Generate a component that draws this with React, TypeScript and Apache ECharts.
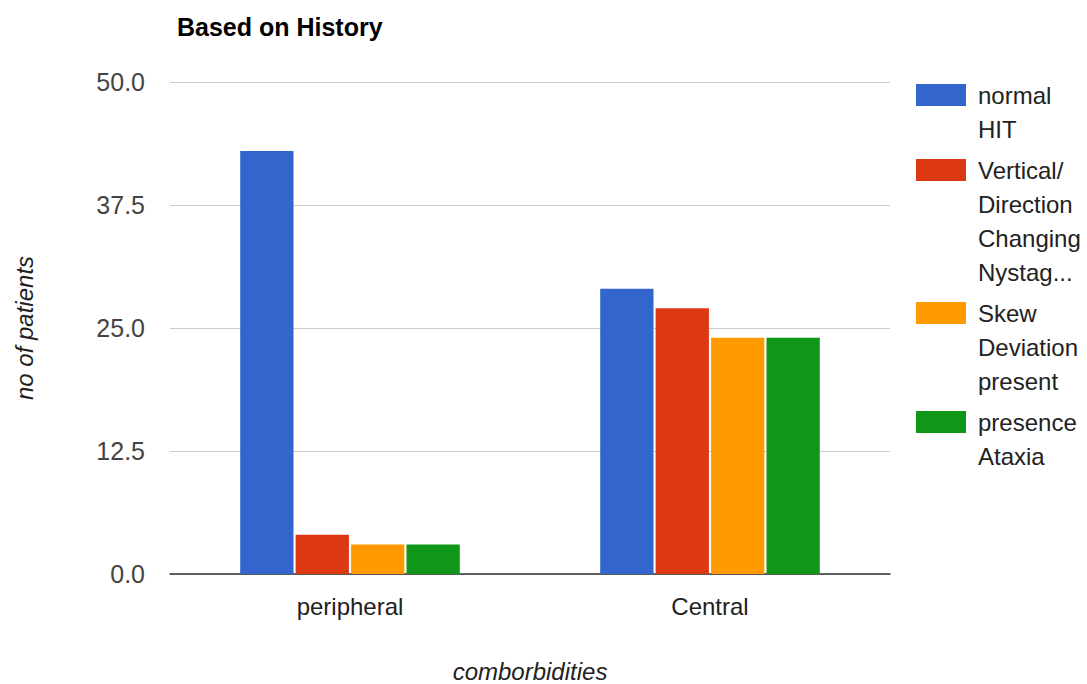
import React, { useEffect, useRef } from "react";
import * as echarts from "echarts";

const categories = ["peripheral", "Central"];
const seriesNames = ["normal HIT", "Vertical/ Direction Changing Nystag...", "Skew Deviation present", "presence Ataxia"];
const legendLines = [["normal", "HIT"], ["Vertical/", "Direction", "Changing", "Nystag..."], ["Skew", "Deviation", "present"], ["presence", "Ataxia"]];
const colors = ["#3366cc", "#dc3912", "#ff9900", "#109618"];
const normalHIT = [43, 29];
const verticalNystagmus = [4, 27];
const skewDeviation = [3, 24];
const presenceAtaxia = [3, 24];
const seriesValues = [normalHIT, verticalNystagmus, skewDeviation, presenceAtaxia];

const FONT = "'Liberation Sans', Arial, sans-serif";
const FS = 24;

export default function App() {
  const ref = useRef<HTMLDivElement>(null);
  useEffect(() => {
    if (!ref.current) return;
    const chart = echarts.init(ref.current, null, { renderer: "svg" });
    const lineH = 34;
    const legendGraphics: any[] = [];
    let y = 95;
    legendLines.forEach((lines, i) => {
      legendGraphics.push({
        type: "rect",
        shape: { x: 916, y: y - 11, width: 50, height: 22 },
        style: { fill: colors[i] },
      });
      legendGraphics.push({
        type: "text",
        x: 978,
        y: y - lineH / 2,
        style: {
          text: lines.join("\n"),
          fill: "#222",
          font: `${FS}px ${FONT}`,
          lineHeight: lineH,
          verticalAlign: "top",
          align: "left",
        },
      });
      y += lines.length * lineH + 7;
    });
    chart.setOption({
      animation: false,
      backgroundColor: "#fff",
      textStyle: { fontFamily: FONT },
      title: {
        text: "Based on History",
        left: 172,
        top: 9,
        textStyle: { fontSize: 25, fontWeight: "bold", color: "#000", fontFamily: FONT },
      },
      grid: { left: 170, right: 197, top: 82, bottom: 110, outerBoundsMode: "none", containLabel: false },
      xAxis: {
        type: "category",
        data: categories,
        name: "comborbidities",
        nameLocation: "middle",
        nameGap: 86,
        nameTextStyle: { fontSize: FS, lineHeight: 22, fontStyle: "italic", color: "#222", fontFamily: FONT },
        axisLine: { lineStyle: { color: "#333", width: 1.5 } },
        axisTick: { show: false },
        axisLabel: { fontSize: FS, color: "#222", margin: 20, fontFamily: FONT },
      },
      yAxis: {
        type: "value",
        min: 0,
        max: 50,
        interval: 12.5,
        name: "no of patients",
        nameLocation: "middle",
        nameGap: 134,
        nameRotate: 90,
        nameTextStyle: { fontSize: FS, fontStyle: "italic", color: "#222", fontFamily: FONT },
        axisLine: { show: false },
        axisTick: { show: false },
        axisLabel: { fontSize: 25, color: "#444", margin: 25, formatter: (v: number) => v.toFixed(1), fontFamily: FONT },
        splitLine: { lineStyle: { color: "#cccccc", width: 1 } },
      },
      series: seriesNames.map((name, i) => ({
        type: "bar",
        name,
        data: seriesValues[i],
        itemStyle: { color: colors[i] },
        barCategoryGap: "39%",
        barGap: "4%",
      })),
      graphic: legendGraphics,
    });
    return () => chart.dispose();
  }, []);
  return <div ref={ref} style={{ position: "fixed", left: 0, top: 0, width: 1087, height: 684 }} />;
}
